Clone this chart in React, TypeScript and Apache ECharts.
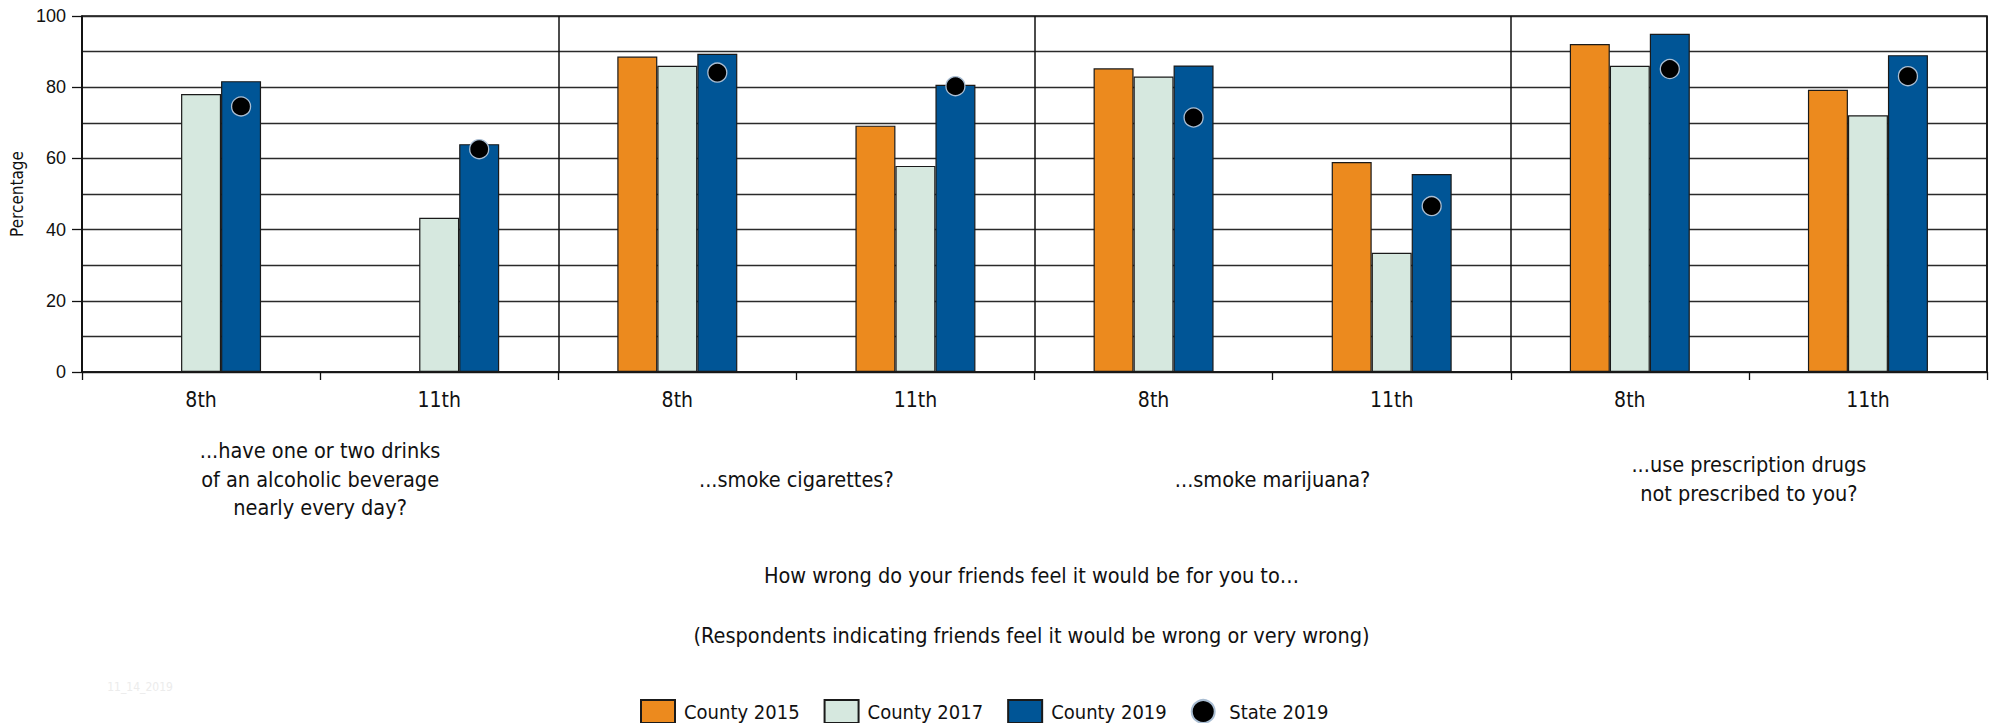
import React, { useEffect, useRef } from "react";
import * as echarts from "echarts";

const categories = ["8th", "11th", "8th", "11th", "8th", "11th", "8th", "11th"];
const groupLabels = [
  "...have one or two drinks\nof an alcoholic beverage\nnearly every day?",
  "...smoke cigarettes?",
  "...smoke marijuana?",
  "...use prescription drugs\nnot prescribed to you?",
];
const county2015 = [null, null, 88.6, 69.2, 85.3, 59.0, 92.1, 79.3];
const county2017 = [78.1, 43.3, 86.0, 57.9, 83.0, 33.5, 86.0, 72.1];
const county2019 = [81.7, 64.0, 89.4, 80.7, 86.1, 55.6, 95.0, 89.0];
const state2019 = [74.6, 62.6, 84.1, 80.3, 71.5, 46.6, 85.1, 83.1];
const yTicks = [0, 20, 40, 60, 80, 100];
const titleLine1 = "How wrong do your friends feel it would be for you to\u2026";
const titleLine2 = "(Respondents indicating friends feel it would be wrong or very wrong)";
const stamp = "11_14_2019";

const NARROW = '"DejaVu Sans Condensed", "Liberation Sans Narrow", sans-serif';
const REGULAR = '"Liberation Sans", Arial, sans-serif';
const INK = "#111";

export default function App() {
  const ref = useRef<HTMLDivElement>(null);
  useEffect(() => {
    if (!ref.current) return;
    const chart = echarts.init(ref.current, null, { renderer: "svg" });
    const barStyle = (color: string) => ({ color, borderColor: "#1a1a1a", borderWidth: 1.2 });
    chart.setOption({
      animation: false,
      backgroundColor: "#fff",
      grid: {
        left: 76,
        top: 16,
        width: 1911,
        height: 356,
        show: true,
        borderColor: INK,
        borderWidth: 1.5,
        backgroundColor: "transparent",
      },
      legend: {
        left: 635,
        top: 694,
        itemWidth: 34,
        itemHeight: 23,
        itemGap: 24,
        textStyle: { fontSize: 20, fontFamily: NARROW, color: INK, padding: [0, 0, 0, 4] },
        data: [
          { name: "County 2015", icon: "rect" },
          { name: "County 2017", icon: "rect" },
          { name: "County 2019", icon: "rect" },
          { name: "State 2019", icon: "circle" },
        ],
      },
      xAxis: [
        {
          type: "category",
          data: categories,
          position: "bottom",
          axisLine: { show: true, lineStyle: { color: INK, width: 1.5 } },
          axisTick: { show: true, interval: 0, length: 8, lineStyle: { color: INK, width: 1.3 } },
          axisLabel: { interval: 0, fontSize: 21, fontFamily: NARROW, color: INK, margin: 17 },
          splitLine: {
            show: true,
            interval: (i: number) => i % 2 === 0,
            lineStyle: { color: INK, width: 1.5 },
          },
        },
        {
          type: "category",
          data: groupLabels,
          position: "bottom",
          offset: 0,
          axisLine: { show: false },
          axisTick: { show: false },
          splitLine: { show: false },
          axisLabel: {
            interval: 0,
            fontSize: 21.5,
            lineHeight: 28.5,
            fontFamily: NARROW,
            color: INK,
            verticalAlign: "middle",
            margin: 107,
          },
        },
      ],
      yAxis: {
        type: "value",
        min: 0,
        max: 100,
        interval: 20,
        name: "Percentage",
        nameLocation: "middle",
        nameRotate: 90,
        nameGap: 57,
        nameTextStyle: { fontSize: 17, fontFamily: NARROW, color: INK },
        axisLine: { show: true, lineStyle: { color: INK, width: 1.5 } },
        axisTick: { show: true, length: 10, lineStyle: { color: INK, width: 1.3 } },
        axisLabel: {
          fontSize: 18,
          fontFamily: REGULAR,
          color: INK,
          margin: 16,
          formatter: (v: number) => (yTicks.includes(v) ? String(v) : ""),
        },
        splitLine: { show: true, lineStyle: { color: "#2a2a2a", width: 1.3 } },
        minorTick: { show: false, splitNumber: 2 },
        minorSplitLine: { show: true, lineStyle: { color: "#2a2a2a", width: 1.3 } },
      },
      series: [
        { name: "County 2015", type: "bar", data: county2015, barWidth: 40, barGap: "0%", itemStyle: barStyle("#EC8A1E") },
        { name: "County 2017", type: "bar", data: county2017, barWidth: 40, barGap: "0%", itemStyle: barStyle("#D6E8DF") },
        { name: "County 2019", type: "bar", data: county2019, barWidth: 40, barGap: "0%", itemStyle: barStyle("#005596") },
        {
          name: "State 2019",
          type: "scatter",
          data: state2019,
          symbol: "circle",
          symbolSize: 19,
          symbolOffset: [40, 0],
          z: 5,
          itemStyle: { color: "#000", opacity: 1, borderColor: "#a9bdd2", borderWidth: 1.3 },
        },
      ],
      graphic: [
        {
          type: "text",
          x: 1031.5,
          y: 575,
          style: { text: titleLine1, fontSize: 21.5, fontFamily: NARROW, fill: INK, align: "center", verticalAlign: "middle" },
        },
        {
          type: "text",
          x: 1031.5,
          y: 635,
          style: { text: titleLine2, fontSize: 21.5, fontFamily: NARROW, fill: INK, align: "center", verticalAlign: "middle" },
        },
        {
          type: "text",
          x: 140,
          y: 687,
          style: { text: stamp, fontSize: 12, fontFamily: NARROW, fill: "#ececec", align: "center", verticalAlign: "middle" },
        },
      ],
    });
    return () => chart.dispose();
  }, []);
  return (
    <div
      ref={ref}
      style={{ position: "absolute", left: 0, top: 0, width: 1998, height: 723, background: "#fff" }}
    />
  );
}
